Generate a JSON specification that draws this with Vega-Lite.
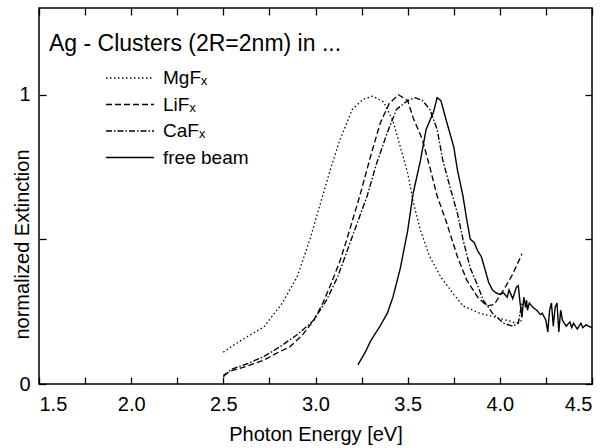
{
  "$schema": "https://vega.github.io/schema/vega-lite/v6.json",
  "width": 553,
  "height": 376,
  "autosize": "none",
  "padding": {"left": 39, "top": 8, "right": 15, "bottom": 64},
  "config": {
    "view": {"stroke": "black", "strokeWidth": 1.5},
    "font": "Liberation Sans",
    "axis": {"domain": false, "grid": false, "tickColor": "black", "labelColor": "black", "titleColor": "black", "labelFont": "Liberation Sans", "titleFont": "Liberation Sans", "titleFontWeight": "normal", "tickWidth": 1.3}
  },
  "data": {"values": [
    {"s":"MgFₓ","e":2.50,"v":0.11},{"s":"MgFₓ","e":2.54,"v":0.128},{"s":"MgFₓ","e":2.62,"v":0.16},{"s":"MgFₓ","e":2.72,"v":0.197},{"s":"MgFₓ","e":2.82,"v":0.28},{"s":"MgFₓ","e":2.90,"v":0.37},{"s":"MgFₓ","e":2.97,"v":0.50},{"s":"MgFₓ","e":3.02,"v":0.61},{"s":"MgFₓ","e":3.08,"v":0.74},{"s":"MgFₓ","e":3.13,"v":0.84},{"s":"MgFₓ","e":3.20,"v":0.95},{"s":"MgFₓ","e":3.26,"v":0.985},{"s":"MgFₓ","e":3.31,"v":0.995},{"s":"MgFₓ","e":3.37,"v":0.975},{"s":"MgFₓ","e":3.42,"v":0.91},{"s":"MgFₓ","e":3.46,"v":0.82},{"s":"MgFₓ","e":3.50,"v":0.73},{"s":"MgFₓ","e":3.53,"v":0.63},{"s":"MgFₓ","e":3.57,"v":0.53},{"s":"MgFₓ","e":3.62,"v":0.44},{"s":"MgFₓ","e":3.68,"v":0.37},{"s":"MgFₓ","e":3.75,"v":0.31},{"s":"MgFₓ","e":3.80,"v":0.27},{"s":"MgFₓ","e":3.89,"v":0.245},{"s":"MgFₓ","e":3.98,"v":0.23},{"s":"MgFₓ","e":4.04,"v":0.22},{"s":"MgFₓ","e":4.09,"v":0.21},{"s":"MgFₓ","e":4.12,"v":0.22},
    {"s":"LiFₓ","e":2.50,"v":0.03},{"s":"LiFₓ","e":2.54,"v":0.045},{"s":"LiFₓ","e":2.63,"v":0.062},{"s":"LiFₓ","e":2.72,"v":0.083},{"s":"LiFₓ","e":2.80,"v":0.11},{"s":"LiFₓ","e":2.86,"v":0.128},{"s":"LiFₓ","e":2.93,"v":0.17},{"s":"LiFₓ","e":2.99,"v":0.22},{"s":"LiFₓ","e":3.04,"v":0.28},{"s":"LiFₓ","e":3.08,"v":0.34},{"s":"LiFₓ","e":3.13,"v":0.42},{"s":"LiFₓ","e":3.17,"v":0.50},{"s":"LiFₓ","e":3.24,"v":0.65},{"s":"LiFₓ","e":3.30,"v":0.79},{"s":"LiFₓ","e":3.35,"v":0.90},{"s":"LiFₓ","e":3.40,"v":0.97},{"s":"LiFₓ","e":3.45,"v":1.0},{"s":"LiFₓ","e":3.50,"v":0.98},{"s":"LiFₓ","e":3.53,"v":0.92},{"s":"LiFₓ","e":3.58,"v":0.845},{"s":"LiFₓ","e":3.62,"v":0.75},{"s":"LiFₓ","e":3.66,"v":0.65},{"s":"LiFₓ","e":3.71,"v":0.56},{"s":"LiFₓ","e":3.77,"v":0.44},{"s":"LiFₓ","e":3.82,"v":0.36},{"s":"LiFₓ","e":3.88,"v":0.30},{"s":"LiFₓ","e":3.93,"v":0.27},{"s":"LiFₓ","e":3.97,"v":0.275},{"s":"LiFₓ","e":4.02,"v":0.325},{"s":"LiFₓ","e":4.07,"v":0.38},{"s":"LiFₓ","e":4.12,"v":0.45},
    {"s":"CaFₓ","e":2.50,"v":0.025},{"s":"CaFₓ","e":2.54,"v":0.05},{"s":"CaFₓ","e":2.63,"v":0.07},{"s":"CaFₓ","e":2.72,"v":0.095},{"s":"CaFₓ","e":2.81,"v":0.13},{"s":"CaFₓ","e":2.90,"v":0.17},{"s":"CaFₓ","e":2.99,"v":0.22},{"s":"CaFₓ","e":3.06,"v":0.29},{"s":"CaFₓ","e":3.12,"v":0.37},{"s":"CaFₓ","e":3.20,"v":0.51},{"s":"CaFₓ","e":3.28,"v":0.65},{"s":"CaFₓ","e":3.33,"v":0.76},{"s":"CaFₓ","e":3.39,"v":0.87},{"s":"CaFₓ","e":3.44,"v":0.95},{"s":"CaFₓ","e":3.50,"v":0.98},{"s":"CaFₓ","e":3.54,"v":0.99},{"s":"CaFₓ","e":3.58,"v":0.98},{"s":"CaFₓ","e":3.62,"v":0.95},{"s":"CaFₓ","e":3.66,"v":0.88},{"s":"CaFₓ","e":3.69,"v":0.775},{"s":"CaFₓ","e":3.73,"v":0.68},{"s":"CaFₓ","e":3.77,"v":0.59},{"s":"CaFₓ","e":3.80,"v":0.50},{"s":"CaFₓ","e":3.84,"v":0.40},{"s":"CaFₓ","e":3.88,"v":0.34},{"s":"CaFₓ","e":3.91,"v":0.29},{"s":"CaFₓ","e":3.96,"v":0.245},{"s":"CaFₓ","e":4.02,"v":0.21},{"s":"CaFₓ","e":4.07,"v":0.20},{"s":"CaFₓ","e":4.10,"v":0.21},{"s":"CaFₓ","e":4.12,"v":0.28},
    {"s":"free beam","e":3.23,"v":0.066},{"s":"free beam","e":3.27,"v":0.11},{"s":"free beam","e":3.30,"v":0.15},{"s":"free beam","e":3.35,"v":0.20},{"s":"free beam","e":3.39,"v":0.245},{"s":"free beam","e":3.42,"v":0.30},{"s":"free beam","e":3.46,"v":0.40},{"s":"free beam","e":3.50,"v":0.53},{"s":"free beam","e":3.53,"v":0.66},{"s":"free beam","e":3.57,"v":0.775},{"s":"free beam","e":3.60,"v":0.88},{"s":"free beam","e":3.62,"v":0.91},{"s":"free beam","e":3.64,"v":0.94},{"s":"free beam","e":3.66,"v":0.99},{"s":"free beam","e":3.68,"v":0.98},{"s":"free beam","e":3.71,"v":0.91},{"s":"free beam","e":3.75,"v":0.82},{"s":"free beam","e":3.77,"v":0.74},{"s":"free beam","e":3.80,"v":0.65},{"s":"free beam","e":3.82,"v":0.57},{"s":"free beam","e":3.84,"v":0.50},{"s":"free beam","e":3.86,"v":0.49},{"s":"free beam","e":3.88,"v":0.46},{"s":"free beam","e":3.90,"v":0.44},{"s":"free beam","e":3.92,"v":0.395},{"s":"free beam","e":3.94,"v":0.35},{"s":"free beam","e":3.96,"v":0.325},{"s":"free beam","e":3.98,"v":0.315},
    {"s":"free beam","e":4.00,"v":0.31},{"s":"free beam","e":4.02,"v":0.315},{"s":"free beam","e":4.04,"v":0.30},{"s":"free beam","e":4.05,"v":0.325},{"s":"free beam","e":4.07,"v":0.295},{"s":"free beam","e":4.09,"v":0.335},{"s":"free beam","e":4.10,"v":0.34},{"s":"free beam","e":4.11,"v":0.28},{"s":"free beam","e":4.12,"v":0.23},{"s":"free beam","e":4.13,"v":0.30},{"s":"free beam","e":4.14,"v":0.265},{"s":"free beam","e":4.145,"v":0.29},{"s":"free beam","e":4.15,"v":0.255},{"s":"free beam","e":4.16,"v":0.28},{"s":"free beam","e":4.18,"v":0.265},{"s":"free beam","e":4.20,"v":0.255},{"s":"free beam","e":4.22,"v":0.24},{"s":"free beam","e":4.23,"v":0.245},{"s":"free beam","e":4.25,"v":0.22},{"s":"free beam","e":4.26,"v":0.18},{"s":"free beam","e":4.27,"v":0.255},{"s":"free beam","e":4.28,"v":0.28},{"s":"free beam","e":4.29,"v":0.20},{"s":"free beam","e":4.30,"v":0.265},{"s":"free beam","e":4.31,"v":0.28},{"s":"free beam","e":4.32,"v":0.18},{"s":"free beam","e":4.33,"v":0.255},{"s":"free beam","e":4.34,"v":0.22},{"s":"free beam","e":4.36,"v":0.20},{"s":"free beam","e":4.38,"v":0.215},{"s":"free beam","e":4.39,"v":0.195},{"s":"free beam","e":4.40,"v":0.21},{"s":"free beam","e":4.42,"v":0.19},{"s":"free beam","e":4.44,"v":0.21},{"s":"free beam","e":4.45,"v":0.195},{"s":"free beam","e":4.47,"v":0.205},{"s":"free beam","e":4.48,"v":0.20},{"s":"free beam","e":4.50,"v":0.195}
  ]},
  "layer": [
    {
      "mark": {"type": "line", "color": "black", "clip": true},
      "encoding": {
        "x": {"field": "e", "type": "quantitative", "scale": {"domain": [1.5, 4.5], "nice": false, "zero": false},
          "axis": {"orient": "bottom", "title": "Photon Energy [eV]", "titleFontSize": 20, "titlePadding": 10, "labelFontSize": 20, "labelPadding": 17, "tickSize": -7,
            "values": [1.5,1.75,2,2.25,2.5,2.75,3,3.25,3.5,3.75,4,4.25,4.5],
            "labelExpr": "(datum.value*2) % 1 == 0 ? format(datum.value, '.1f') : ''"}},
        "y": {"field": "v", "type": "quantitative", "scale": {"domain": [0, 1.3], "nice": false},
          "axis": {"orient": "left", "title": "normalized Extinction", "titleFontSize": 20, "titleX": -7, "titleY": 236, "labelFontSize": 20, "labelPadding": 16, "tickSize": -7,
            "values": [0, 0.5, 1], "labelExpr": "datum.value == 0.5 ? '' : format(datum.value, 'd')"}},
        "strokeDash": {"field": "s", "type": "nominal",
          "scale": {"domain": ["MgFₓ", "LiFₓ", "CaFₓ", "free beam"], "range": [[1.5, 2.5], [6, 3], [6, 2, 1.5, 2], [1, 0]]},
          "legend": {"title": "Ag - Clusters (2R=2nm) in ...", "orient": "none", "legendX": 10, "legendY": 25,
            "titleFontSize": 23, "titleFontWeight": "normal", "titleColor": "black", "titlePadding": 10, "titleLimit": 500,
            "labelFontSize": 19, "labelColor": "black", "labelOffset": 8,
            "symbolType": "stroke", "symbolSize": 2304, "symbolStrokeColor": "black", "symbolStrokeWidth": 1.3,
            "symbolOffset": 56, "clipHeight": 24, "rowPadding": 2.5}},
        "strokeWidth": {"field": "s", "type": "nominal", "scale": {"domain": ["MgFₓ", "LiFₓ", "CaFₓ", "free beam"], "range": [1.3, 1.4, 1.3, 2.5]}, "legend": null}
      }
    },
    {
      "mark": {"type": "line", "opacity": 0},
      "encoding": {
        "x": {"field": "e", "type": "quantitative",
          "axis": {"orient": "top", "title": null, "labels": false, "tickSize": -7, "values": [1.5,1.75,2,2.25,2.5,2.75,3,3.25,3.5,3.75,4,4.25,4.5]}},
        "y": {"field": "v", "type": "quantitative",
          "axis": {"orient": "right", "title": null, "labels": false, "tickSize": -7, "values": [0, 0.5, 1]}},
        "detail": {"field": "s"}
      }
    }
  ],
  "resolve": {"axis": {"x": "independent", "y": "independent"}}
}
